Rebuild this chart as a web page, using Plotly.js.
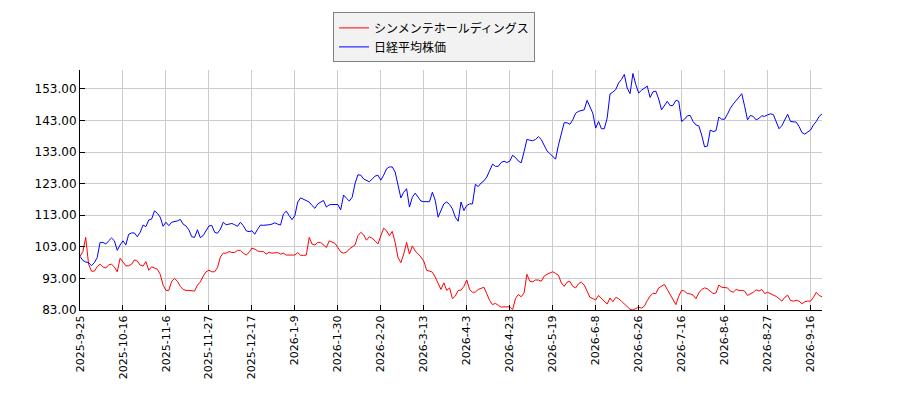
<!DOCTYPE html>
<html>
<head>
<meta charset="utf-8">
<script src="https://cdn.plot.ly/plotly-3.0.1.min.js"></script>
<style>
  body { margin: 0; background: #fff; }
  #myDiv { width: 900px; height: 400px; }
</style>
</head>
<body>
<div id="myDiv"></div>
<script>
// relative price, start = 100, one value per trading day
var companyName = 'シンメンテホールディングス';
var indexName = '日経平均株価';

var companyValues = [
  100.0, 101.5, 106.0, 97.5, 95.3, 95.3, 96.7, 97.5, 96.6, 96.3,
  97.3, 97.5, 96.6, 95.1, 99.4, 98.0, 97.0, 97.0, 97.5, 98.9,
  98.5, 97.2, 96.9, 98.3, 95.6, 96.7, 96.4, 95.9, 94.3, 90.9,
  89.2, 89.2, 92.1, 93.0, 92.1, 90.5, 89.5, 89.2, 89.2, 89.2,
  89.0, 90.9, 91.9, 93.7, 95.1, 95.6, 95.1, 95.1, 96.4, 99.8,
  101.0, 101.0, 101.5, 101.2, 101.2, 101.9, 101.9, 101.0, 100.4, 101.2,
  102.6, 102.3, 101.7, 101.5, 101.5, 100.7, 101.3, 101.0, 101.2, 101.2,
  100.7, 101.0, 100.4, 100.4, 100.4, 100.4, 101.2, 100.3, 100.3, 100.4,
  106.0, 103.9, 103.6, 104.4, 104.4, 103.6, 102.8, 104.9, 104.6, 104.1,
  102.8, 101.4, 101.0, 101.3, 102.3, 103.1, 103.6, 106.5, 107.6, 106.8,
  105.1, 106.2, 105.7, 104.9, 103.9, 106.5, 108.9, 108.1, 106.5, 107.9,
  104.4, 99.6, 98.0, 100.7, 104.4, 100.7, 103.3, 101.7, 100.9, 99.8,
  98.5, 95.6, 95.3, 95.0, 93.4, 91.3, 89.5, 91.6, 89.2, 90.0,
  86.6, 87.4, 89.2, 89.3, 90.5, 92.5, 89.5, 88.6, 88.7, 89.5,
  89.8, 90.2, 88.1, 86.0, 84.7, 85.1, 84.5, 83.9, 84.0, 84.0,
  84.0, 83.1, 86.6, 87.9, 87.2, 88.4, 94.3, 92.1, 91.9, 92.5,
  92.5, 92.1, 93.7, 94.3, 94.6, 95.1, 94.6, 94.0, 91.6, 90.5,
  91.8, 92.1, 90.5, 90.0, 91.3, 91.8, 90.9, 89.2, 87.0, 86.6,
  86.2, 87.6, 86.8, 86.0, 84.9, 86.8, 85.6, 87.0, 86.6, 85.8,
  85.0, 84.2, 83.2, 83.0, 83.4, 83.9, 83.6, 84.2, 86.0, 87.4,
  88.3, 88.2, 90.0, 90.5, 91.1, 89.5, 87.9, 86.0, 84.7, 87.4,
  89.2, 89.0, 88.2, 88.1, 87.7, 86.6, 88.4, 89.5, 90.0, 89.7,
  89.0, 88.2, 88.4, 90.9, 90.2, 90.0, 90.0, 89.0, 88.6, 89.5,
  89.2, 89.2, 89.0, 87.6, 88.1, 88.6, 89.4, 89.0, 89.5, 88.2,
  88.6, 88.2, 87.9, 87.3, 86.6, 85.8, 87.0, 87.7, 86.0, 85.8,
  86.1, 85.8, 85.0, 85.6, 85.8, 85.8, 87.0, 88.6, 87.6, 87.2
];

var indexValues = [
  100.0, 98.7, 98.2, 98.0, 97.0, 98.0, 99.6, 104.4, 104.4, 103.9,
  104.9, 105.8, 104.9, 101.9, 103.6, 104.9, 103.6, 107.0, 107.4, 107.4,
  106.2, 107.6, 109.9, 109.4, 111.5, 111.8, 114.4, 113.6, 112.4, 109.5,
  110.8, 109.7, 110.8, 110.9, 111.2, 111.7, 110.2, 109.6, 108.4, 106.2,
  106.0, 108.4, 105.9, 106.6, 108.0, 109.6, 109.8, 107.6, 107.3, 108.6,
  110.8, 110.0, 110.2, 110.4, 110.0, 109.5, 110.8, 109.7, 108.1, 107.8,
  108.1, 107.0, 108.6, 109.9, 109.8, 109.8, 110.0, 110.2, 110.6, 110.2,
  109.9, 113.4, 114.3, 112.9, 111.6, 112.9, 117.2, 118.5, 118.0, 117.6,
  117.2, 116.1, 115.2, 116.6, 117.3, 117.7, 115.6, 116.3, 116.4, 116.4,
  116.4, 114.7, 119.4, 118.4, 117.5, 118.7, 123.0, 125.8, 125.7, 124.5,
  124.1, 123.6, 124.5, 125.4, 125.7, 124.1, 125.7, 127.7, 128.3, 128.3,
  126.7, 122.5, 118.5, 120.3, 121.4, 115.6, 118.7, 120.0, 118.7, 117.5,
  117.3, 117.3, 117.3, 120.3, 117.7, 112.4, 114.3, 116.6, 117.2, 116.4,
  115.0, 112.4, 111.1, 117.2, 114.5, 116.1, 116.6, 116.6, 122.8, 122.1,
  123.2, 123.9, 125.1, 127.1, 129.2, 128.5, 128.5, 129.7, 130.1, 129.7,
  130.1, 132.0, 131.3, 130.2, 129.6, 133.1, 137.0, 136.8, 136.6, 137.0,
  137.9, 137.0, 134.9, 133.4, 132.5, 131.8, 130.8, 135.2, 139.0, 142.3,
  142.3, 141.8, 143.2, 145.3, 145.9, 146.2, 146.4, 149.4, 147.5, 145.3,
  140.6, 142.7, 140.4, 140.4, 143.7, 151.4, 152.0, 152.8, 154.9, 156.0,
  157.6, 153.3, 151.5, 157.9, 154.4, 151.7, 152.6, 153.4, 153.9, 150.3,
  152.1, 152.3, 149.8, 146.4, 147.7, 149.1, 147.7, 147.8, 149.4, 149.1,
  142.7, 143.4, 144.5, 144.6, 142.7, 141.6, 141.3, 138.4, 134.7, 134.9,
  140.0, 139.5, 139.8, 144.1, 143.4, 143.4, 145.0, 146.9, 148.2, 149.3,
  150.3, 151.5, 147.5, 143.2, 144.6, 144.3, 143.2, 143.7, 144.5, 144.3,
  144.8, 145.1, 144.9, 142.7, 140.4, 141.4, 143.2, 145.0, 142.7, 142.5,
  142.5, 141.1, 139.2, 138.7, 139.4, 140.0, 141.6, 142.7, 144.3, 145.1
];

// date labels shown every 15 trading days
var tickPositions = [0, 15, 30, 45, 60, 75, 90, 105, 120, 135, 150, 165, 180, 195, 210, 225, 240, 255];
var tickLabels = ['2025-9-25', '2025-10-16', '2025-11-6', '2025-11-27', '2025-12-17',
  '2026-1-9', '2026-1-30', '2026-2-20', '2026-3-13', '2026-4-3', '2026-4-23',
  '2026-5-19', '2026-6-8', '2026-6-26', '2026-7-16', '2026-8-6', '2026-8-27', '2026-9-16'];
var yTicks = [83, 93, 103, 113, 123, 133, 143, 153];

var days = companyValues.map(function (v, i) { return i; });

function drawLineChart() {
  var trace1 = {
    x: days,
    y: companyValues,
    name: companyName,
    type: 'scatter',
    mode: 'lines',
    line: { color: '#ff0000', width: 1 }
  };

  var trace2 = {
    x: days,
    y: indexValues,
    name: indexName,
    type: 'scatter',
    mode: 'lines',
    line: { color: '#0000ff', width: 1 }
  };

  var layout = {
    width: 900,
    height: 400,
    margin: { l: 80, r: 78, t: 70, b: 90 },
    paper_bgcolor: '#ffffff',
    plot_bgcolor: '#ffffff',
    font: { family: 'DejaVu Sans, Noto Sans CJK JP, sans-serif', size: 11, color: '#000000' },
    showlegend: true,
    legend: {
      x: 0.341, y: 1.24, xanchor: 'left', yanchor: 'top',
      bgcolor: '#f2f2f2', bordercolor: '#808080', borderwidth: 1,
      font: { size: 12, color: '#000000' },
      tracegroupgap: 0
    },
    xaxis: {
      range: [0, days.length - 1],
      tickvals: tickPositions,
      ticktext: tickLabels,
      tickangle: -90,
      ticks: 'inside', ticklen: 5, tickcolor: '#000000',
      showgrid: true, gridcolor: '#cccccc', gridwidth: 1,
      showline: true, linecolor: '#000000', linewidth: 1, mirror: false,
      zeroline: false,
      tickfont: { size: 11 }
    },
    yaxis: {
      range: [83, 159],
      tickvals: yTicks,
      tickformat: '.2f',
      ticks: 'inside', ticklen: 5, tickcolor: '#000000',
      showgrid: true, gridcolor: '#cccccc', gridwidth: 1,
      showline: true, linecolor: '#000000', linewidth: 1, mirror: false,
      zeroline: false,
      tickfont: { size: 12 }
    }
  };

  Plotly.newPlot('myDiv', [trace1, trace2], layout, { displayModeBar: false, staticPlot: true });
}

drawLineChart();
</script>
</body>
</html>
